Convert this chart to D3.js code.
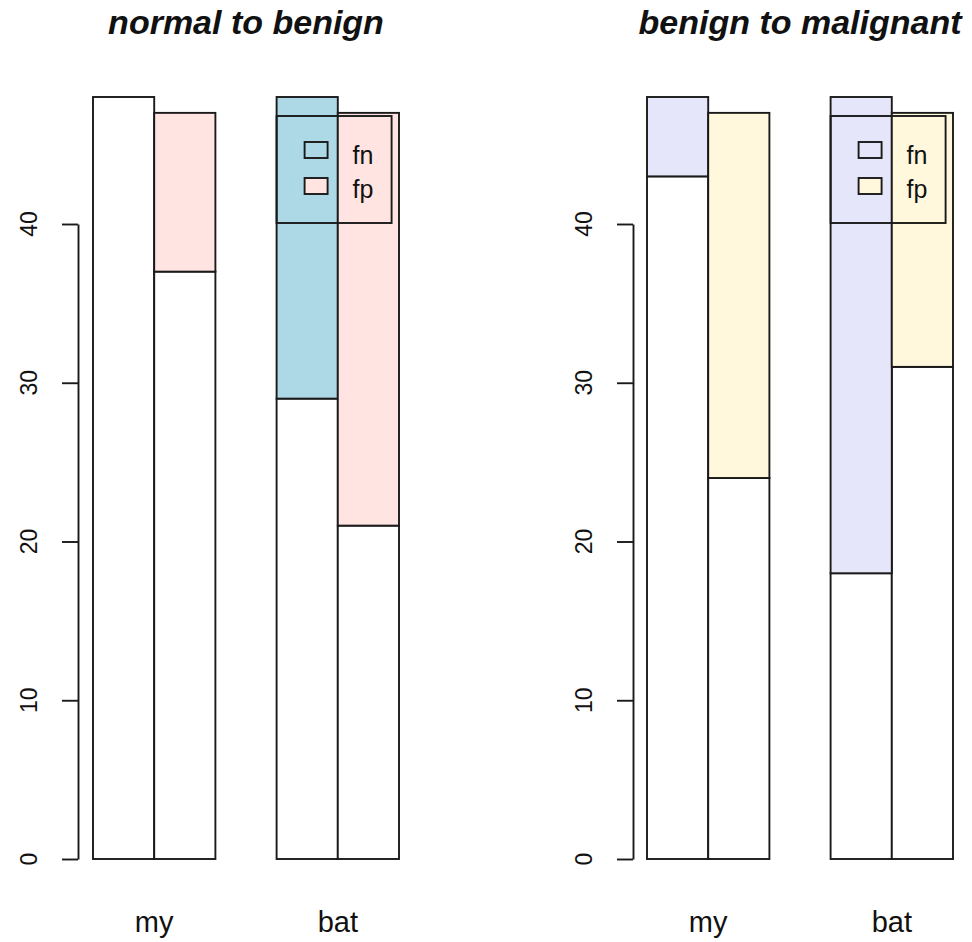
<!DOCTYPE html>
<html>
<head>
<meta charset="utf-8">
<script src="https://cdn.jsdelivr.net/npm/d3@7"></script>
<style>
    body { margin: 0; background: #fff; }
    svg { display: block; font-family: "Liberation Sans", Arial, sans-serif; }
</style>
</head>
<body>
<svg id="chart" width="972" height="942"></svg>
<script>
// categories
const groups = ["my", "bat"];
const seriesNames = ["fn", "fp"];
const yTicks = [0, 10, 20, 30, 40];
const titles = ["normal to benign", "benign to malignant"];

// normal to benign: white base + coloured top segment
const nbFnBase = [48, 29];
const nbFnTop = [0, 19];
const nbFpBase = [37, 21];
const nbFpTop = [10, 26];

// benign to malignant
const bmFnBase = [43, 18];
const bmFnTop = [5, 30];
const bmFpBase = [24, 31];
const bmFpTop = [23, 16];

const nbColors = ["lightblue", "mistyrose"];
const bmColors = ["lavender", "cornsilk"];

const STROKE = "#1a1a1a";
const LW = 1.9;
const svg = d3.select("#chart");

const yScale = d3.scaleLinear().domain([0, 40]).range([859, 224]);

function drawPanel(cfg) {
    // bar units: group g, series s -> [1 + 3g + s, 2 + 3g + s]
    const xScale = d3.scaleLinear().domain([1, 6]).range(cfg.range);
    const g = svg.append("g");

    const rows = [];
    groups.forEach((grp, gi) => {
        seriesNames.forEach((s, si) => {
            const base = si === 0 ? cfg.fnBase[gi] : cfg.fpBase[gi];
            const top = si === 0 ? cfg.fnTop[gi] : cfg.fpTop[gi];
            rows.push({grp, s, x0: 1 + gi * 3 + si, base, top, color: cfg.colors[si]});
        });
    });

    // bottom (white) segments
    g.selectAll(".base")
        .data(rows)
        .join("rect")
        .attr("class", "base")
        .attr("x", d => xScale(d.x0))
        .attr("width", d => xScale(d.x0 + 1) - xScale(d.x0))
        .attr("y", d => yScale(d.base))
        .attr("height", d => yScale(0) - yScale(d.base))
        .attr("fill", "#fff")
        .attr("stroke", STROKE)
        .attr("stroke-width", LW);

    // top (coloured) segments
    g.selectAll(".top")
        .data(rows)
        .join("rect")
        .attr("class", "top")
        .attr("x", d => xScale(d.x0))
        .attr("width", d => xScale(d.x0 + 1) - xScale(d.x0))
        .attr("y", d => yScale(d.base + d.top))
        .attr("height", d => yScale(d.base) - yScale(d.base + d.top))
        .attr("fill", d => d.color)
        .attr("stroke", STROKE)
        .attr("stroke-width", LW);

    // y axis
    const yAxis = d3.axisLeft(yScale).tickValues(yTicks).tickSize(16).tickSizeOuter(0).tickFormat("");
    const axisG = g.append("g")
        .attr("transform", `translate(${cfg.axisX},0)`)
        .call(yAxis);
    axisG.selectAll("path, line").attr("stroke", STROKE).attr("stroke-width", LW);

    g.selectAll(".ytick")
        .data(yTicks)
        .join("text")
        .attr("class", "ytick")
        .attr("transform", d => `translate(${cfg.axisX - 41},${yScale(d)}) rotate(-90)`)
        .attr("text-anchor", "middle")
        .attr("font-size", 23)
        .attr("fill", "#111")
        .text(d => d);

    // group labels
    g.selectAll(".glabel")
        .data(groups)
        .join("text")
        .attr("class", "glabel")
        .attr("x", (d, i) => xScale(2 + i * 3))
        .attr("y", 932)
        .attr("text-anchor", "middle")
        .attr("font-size", 29)
        .attr("fill", "#111")
        .text(d => d);

    // title
    g.append("text")
        .attr("x", xScale(3.5))
        .attr("y", 34)
        .attr("text-anchor", "middle")
        .attr("font-size", 34)
        .attr("font-weight", "bold")
        .attr("font-style", "italic")
        .attr("fill", "#111")
        .text(cfg.title);

    // legend
    const lx = xScale(4);
    const leg = g.append("g").attr("transform", `translate(${lx},116)`);
    leg.append("rect")
        .attr("width", 115).attr("height", 107)
        .attr("fill", "none")
        .attr("stroke", STROKE)
        .attr("stroke-width", LW);
    seriesNames.forEach((s, i) => {
        leg.append("rect")
            .attr("x", 28).attr("y", 26 + i * 36)
            .attr("width", 23).attr("height", 16)
            .attr("fill", cfg.colors[i])
            .attr("stroke", STROKE)
            .attr("stroke-width", LW);
        leg.append("text")
            .attr("x", 76).attr("y", 48 + i * 34)
            .attr("font-size", 25)
            .attr("fill", "#111")
            .text(s);
    });
}

drawPanel({title: titles[0], range: [93, 399], axisX: 78,
    fnBase: nbFnBase, fnTop: nbFnTop, fpBase: nbFpBase, fpTop: nbFpTop, colors: nbColors});
drawPanel({title: titles[1], range: [647, 953], axisX: 633,
    fnBase: bmFnBase, fnTop: bmFnTop, fpBase: bmFpBase, fpTop: bmFpTop, colors: bmColors});
</script>
</body>
</html>
